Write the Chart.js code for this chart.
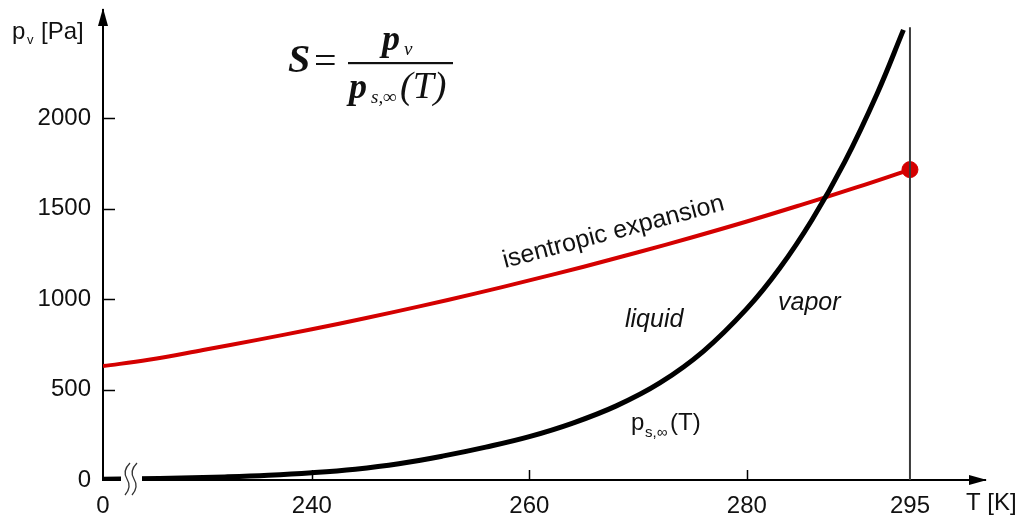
<!DOCTYPE html>
<html>
<head>
<meta charset="utf-8">
<title>Supersaturation</title>
<script src="https://cdn.jsdelivr.net/npm/chart.js@4.4.0/dist/chart.umd.min.js"></script>
<style>
    html, body { margin: 0; padding: 0; background: #fff; }
    #wrap { width: 1023px; height: 517px; }
</style>
</head>
<body>
<div id="wrap"><canvas id="chart" width="1023" height="517"></canvas></div>
<script>
// values
var xTicks = [220.8, 240, 260, 280, 295];
var xTickLabels = ['0', '240', '260', '280', '295'];
var yTicks = [0, 500, 1000, 1500, 2000];

// isentropic expansion (red)
var isoT = [220.8, 225, 230, 235, 240, 245, 250, 255, 260, 265, 270, 275, 280, 285, 290, 295];
var isoP = [630, 665, 719, 775, 834, 896, 962, 1031, 1104, 1180, 1260, 1343, 1430, 1522, 1617, 1717];

// saturation pressure p_s,inf(T) (black)
var satT = [220.8, 224, 228, 232, 236, 240, 244, 248, 252, 256, 260, 264, 268, 272, 276, 280, 283, 286, 289, 292, 294.4];
var satP = [4, 7, 11, 17, 26, 40, 60, 90, 132, 182, 240, 315, 410, 537, 712, 948, 1170, 1440, 1760, 2140, 2490];

// start state and the 295 K marker line
var startT = [295];
var startP = [1717];
var markT = [295, 295];
var markP = [0, 2505];

var FONT = "'Liberation Sans', Arial, sans-serif";
var SERIF = "'Liberation Serif', 'Times New Roman', serif";

function pts(xs, ys) {
    return xs.map(function (x, i) { return { x: x, y: ys[i] }; });
}

function noPad(s) {
    s.paddingTop = 0;
    s.paddingBottom = 0;
    s.paddingLeft = 0;
    s.paddingRight = 0;
}

var decor = {
    id: 'decor',
    afterDraw: function (chart) {
        var ctx = chart.ctx, a = chart.chartArea;
        var xs = chart.scales.x, ys = chart.scales.y;
        ctx.save();

        // inward tick marks
        ctx.strokeStyle = '#000';
        ctx.lineWidth = 1.5;
        ctx.beginPath();
        yTicks.slice(1).forEach(function (v) {
            var py = Math.round(ys.getPixelForValue(v)) + 0.5;
            ctx.moveTo(a.left, py); ctx.lineTo(a.left + 12, py);
        });
        [240, 260, 280].forEach(function (v) {
            var px = Math.round(xs.getPixelForValue(v)) + 0.5;
            ctx.moveTo(px, a.bottom); ctx.lineTo(px, a.bottom - 10);
        });
        ctx.stroke();

        // arrowheads
        ctx.fillStyle = '#000';
        ctx.beginPath();
        ctx.moveTo(a.left, a.top - 2);
        ctx.lineTo(a.left - 5, a.top + 16);
        ctx.lineTo(a.left + 5, a.top + 16);
        ctx.closePath();
        ctx.fill();
        ctx.beginPath();
        ctx.moveTo(a.right + 2, a.bottom);
        ctx.lineTo(a.right - 16, a.bottom - 5);
        ctx.lineTo(a.right - 16, a.bottom + 5);
        ctx.closePath();
        ctx.fill();

        // axis break
        ctx.fillStyle = '#fff';
        ctx.fillRect(a.left + 18, a.bottom - 7, 21, 13);
        ctx.strokeStyle = '#333';
        ctx.lineWidth = 1.3;
        [a.left + 24, a.left + 31].forEach(function (bx) {
            ctx.beginPath();
            ctx.moveTo(bx + 3, a.bottom - 17);
            ctx.quadraticCurveTo(bx - 5, a.bottom - 9, bx, a.bottom - 1);
            ctx.quadraticCurveTo(bx + 5, a.bottom + 7, bx - 2, a.bottom + 15);
            ctx.stroke();
        });

        ctx.fillStyle = '#111';
        ctx.textBaseline = 'alphabetic';
        ctx.textAlign = 'left';

        // axis titles
        ctx.font = '24px ' + FONT;
        ctx.fillText('p', 12, 39);
        ctx.font = '13px ' + FONT;
        ctx.fillText('v', 27, 44);
        ctx.font = '24px ' + FONT;
        ctx.fillText('[Pa]', 41, 39);
        ctx.fillText('T [K]', 966, 510);

        // formula
        ctx.font = 'bold italic 40px ' + SERIF;
        ctx.fillText('S', 288, 72);
        ctx.font = '40px ' + SERIF;
        ctx.fillText('=', 314, 74);
        ctx.fillRect(348, 62, 105, 2.2);
        ctx.font = 'bold italic 36px ' + SERIF;
        ctx.fillText('p', 382, 50);
        ctx.fillText('p', 349, 98);
        ctx.font = 'italic 19px ' + SERIF;
        ctx.fillText('v', 404, 55);
        ctx.fillText('s,\u221e', 371, 103);
        ctx.font = 'italic 38px ' + SERIF;
        ctx.fillText('(T)', 400, 98);

        // curve labels
        ctx.font = 'italic 25px ' + FONT;
        ctx.fillText('liquid', 625, 327);
        ctx.fillText('vapor', 778, 310);
        ctx.font = '24px ' + FONT;
        ctx.fillText('p', 631, 430);
        ctx.font = '15px ' + FONT;
        ctx.fillText('s,\u221e', 645, 437);
        ctx.font = '24px ' + FONT;
        ctx.fillText('(T)', 670, 430);

        ctx.save();
        ctx.translate(505, 268);
        ctx.rotate(-14.8 * Math.PI / 180);
        ctx.font = '25px ' + FONT;
        ctx.fillText('isentropic expansion', 0, 0);
        ctx.restore();

        ctx.restore();
    }
};

new Chart(document.getElementById('chart'), {
    type: 'line',
    data: {
        datasets: [
            {
                data: pts(markT, markP),
                borderColor: '#3a3a3a',
                borderWidth: 2,
                pointRadius: 0
            },
            {
                data: pts(satT, satP),
                borderColor: '#000',
                borderWidth: 5,
                pointRadius: 0,
                tension: 0.4
            },
            {
                data: pts(isoT, isoP),
                borderColor: '#d40000',
                borderWidth: 4,
                pointRadius: 0,
                tension: 0.4
            },
            {
                data: pts(startT, startP),
                showLine: false,
                pointRadius: 8,
                pointBackgroundColor: '#d40000',
                pointBorderColor: '#d40000'
            }
        ]
    },
    options: {
        responsive: false,
        animation: false,
        layout: { padding: { left: 0, right: 38, top: 10, bottom: 0 } },
        plugins: { legend: { display: false }, tooltip: { enabled: false } },
        scales: {
            x: {
                type: 'linear',
                min: 220.8,
                max: 301.9,
                afterBuildTicks: function (s) { s.ticks = xTicks.map(function (v) { return { value: v }; }); },
                afterFit: function (s) { s.height = 37; noPad(s); },
                grid: { display: false, drawTicks: false },
                border: { display: true, color: '#000', width: 2 },
                ticks: {
                    autoSkip: false,
                    maxRotation: 0,
                    padding: 12,
                    color: '#111',
                    font: { family: FONT, size: 24 },
                    callback: function (v, i) { return xTickLabels[i]; }
                }
            },
            y: {
                type: 'linear',
                min: 0,
                max: 2600,
                afterBuildTicks: function (s) { s.ticks = yTicks.map(function (v) { return { value: v }; }); },
                afterFit: function (s) { s.width = 103; noPad(s); },
                grid: { display: false, drawTicks: false },
                border: { display: true, color: '#000', width: 2 },
                ticks: {
                    padding: 12,
                    color: '#111',
                    font: { family: FONT, size: 24 },
                    callback: function (v) { return String(v); }
                }
            }
        }
    },
    plugins: [decor]
});
</script>
</body>
</html>
